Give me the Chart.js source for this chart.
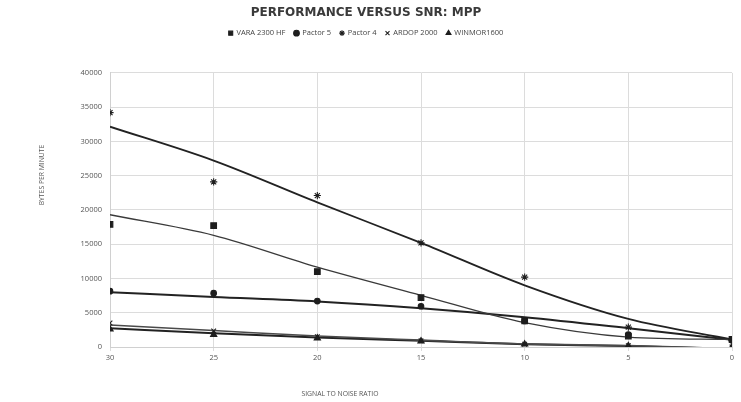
<!DOCTYPE html>
<html>
<head>
<meta charset="utf-8">
<script src="https://cdn.jsdelivr.net/npm/chart.js@4/dist/chart.umd.min.js"></script>
<style>
  html, body { margin: 0; padding: 0; background: #fff; }
  #wrap { width: 741px; height: 402px; }
</style>
</head>
<body>
<div id="wrap"><canvas id="myChart" width="741" height="402"></canvas></div>
<script>
// signal to noise ratio (dB)
const snr = [30, 25, 20, 15, 10, 5, 0];

// measured bytes per minute
const vara = [17900, 17700, 11000, 7200, 3800, 1600, 1100];
const pactor5 = [8150, 7850, 6700, 5950, 3800, 1800, 1000];
const pactor4 = [34200, 24100, 22100, 15200, 10200, 2900, 1000];
const ardop = [3500, 2350, 1500, 900, 400, 200, 0];
const winmor = [2600, 1800, 1300, 850, 400, 150, 0];

// trendlines
const varaTrend = [19300, 16300, 11650, 7550, 3550, 1450, 1100];
const pactor5Trend = [8000, 7300, 6650, 5650, 4350, 2750, 1050];
const pactor4Trend = [32150, 27200, 21100, 15200, 9000, 4100, 1100];
const ardopTrend = [3200, 2400, 1600, 1000, 450, 200, -250];
const winmorTrend = [2750, 2000, 1400, 900, 400, 150, -300];

const yTicks = [0, 5000, 10000, 15000, 20000, 25000, 30000, 35000, 40000];

const names = ["VARA 2300 HF", "Pactor 5", "Pactor 4", "ARDOP 2000", "WINMOR1600"];

function pts(ys) {
    return snr.map((x, i) => ({ x: x, y: ys[i] }));
}

function markers(label, ys, style, r) {
    return {
        label: label,
        data: pts(ys),
        showLine: false,
        pointStyle: style,
        pointRadius: r,
        pointBackgroundColor: "#1e1e1e",
        pointBorderColor: "#1e1e1e",
        pointBorderWidth: 1.1,
        backgroundColor: "#1e1e1e",
        borderColor: "#1e1e1e",
        order: 0
    };
}

function trend(ys, w, col) {
    return {
        label: "trend",
        data: pts(ys),
        showLine: true,
        pointRadius: 0,
        borderColor: col,
        borderWidth: w,
        cubicInterpolationMode: "monotone",
        fill: false,
        order: 1
    };
}

const datasets = [
    markers(names[0], vara, "rect", 4),
    markers(names[1], pactor5, "circle", 2.8),
    markers(names[2], pactor4, "star", 3.6),
    markers(names[3], ardop, "crossRot", 3.3),
    markers(names[4], winmor, "triangle", 3.6),
    trend(varaTrend, 1.3, "#3a3a3a"),
    trend(pactor5Trend, 2, "#222"),
    trend(pactor4Trend, 1.8, "#222"),
    trend(ardopTrend, 1.6, "#4a4a4a"),
    trend(winmorTrend, 2, "#222")
];

// extra room under the legend, and the axis titles placed like the original
const extras = {
    id: "extras",
    beforeLayout(chart) {
        const lg = chart.legend;
        if (lg && !lg._patched) {
            const f = lg.fit;
            lg.fit = function () { f.call(this); this.height += 26; };
            lg._patched = true;
        }
    },
    afterDraw(chart) {
        const ctx = chart.ctx;
        ctx.save();
        ctx.fillStyle = "#555";
        ctx.font = "6.8px 'Open Sans'";
        ctx.textAlign = "center";
        ctx.textBaseline = "middle";
        ctx.fillText("SIGNAL TO NOISE RATIO", 340, 394);
        ctx.translate(42, 175);
        ctx.rotate(-Math.PI / 2);
        ctx.fillText("BYTES PER MINUTE", 0, 0);
        ctx.restore();
    }
};

new Chart("myChart", {
    type: "scatter",
    data: { datasets: datasets },
    options: {
        responsive: false,
        animation: false,
        layout: { padding: { left: 0, right: 9, top: 0, bottom: 0 } },
        plugins: {
            tooltip: { enabled: false },
            title: {
                display: true,
                text: "PERFORMANCE VERSUS SNR: MPP",
                color: "#3a3a3a",
                font: { family: "DejaVu Sans", size: 12, weight: "bold" },
                padding: { top: 6, bottom: 0 }
            },
            legend: {
                display: true,
                labels: {
                    usePointStyle: true,
                    boxWidth: 4,
                    boxHeight: 4,
                    padding: 9,
                    color: "#444",
                    font: { family: "Open Sans", size: 7.5 },
                    filter: (item) => item.text !== "trend"
                }
            }
        },
        scales: {
            x: {
                type: "linear",
                min: 0,
                max: 30,
                reverse: true,
                afterFit: (s) => { s.height = 55; },
                ticks: {
                    stepSize: 5,
                    color: "#555",
                    font: { family: "Open Sans", size: 7.5 },
                    padding: 2
                },
                grid: { color: "#dcdcdc", tickLength: 4 },
                border: { color: "#d0d0d0" }
            },
            y: {
                min: 0,
                max: 40000,
                afterFit: (s) => { s.width = 110; },
                afterBuildTicks: (s) => { s.ticks = yTicks.map(v => ({ value: v })); },
                ticks: {
                    color: "#555",
                    font: { family: "Open Sans", size: 7.5 },
                    padding: 8,
                    callback: (v) => String(v)
                },
                grid: { color: "#dcdcdc", drawTicks: false },
                border: { color: "#d0d0d0" }
            }
        }
    },
    plugins: [extras]
});
</script>
</body>
</html>
